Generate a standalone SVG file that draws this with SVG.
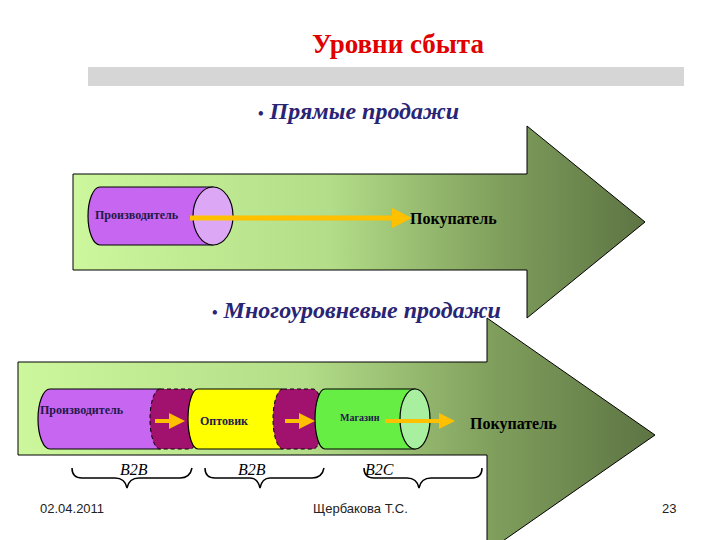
<svg xmlns="http://www.w3.org/2000/svg" width="720" height="540" viewBox="0 0 720 540">
<defs>
<linearGradient id="g" x1="0" x2="1" y1="0" y2="0"><stop offset="0" stop-color="#ccf79c"/><stop offset="0.45" stop-color="#b3dd88"/><stop offset="0.75" stop-color="#7f9e5c"/><stop offset="1" stop-color="#5d7443"/></linearGradient>
<marker id="ah" markerWidth="4" markerHeight="4" refX="2" refY="2" orient="auto" markerUnits="strokeWidth"><path d="M0,0 L4,2 L0,4 z" fill="#ffc000"/></marker>
<style>
.t{font-family:"Liberation Serif",serif;font-weight:bold;fill:#1f1a4a}
.k{font-family:"Liberation Serif",serif;font-weight:bold;fill:#000}
.b{font-family:"Liberation Serif",serif;font-style:italic;font-weight:bold;fill:#2a2475}
.cyl{stroke:#000;stroke-width:1.2}
.arr{stroke:#ffc000;fill:none;marker-end:url(#ah)}
.br{fill:none;stroke:#000;stroke-width:1.5}
.f{font-family:"Liberation Sans",sans-serif;font-size:13px;fill:#222}
</style>
</defs>
<rect width="720" height="540" fill="#fff"/>
<text x="398" y="53" text-anchor="middle" font-family="Liberation Serif,serif" font-size="27" font-weight="bold" fill="#e00000">Уровни сбыта</text>
<rect x="88" y="67" width="596" height="19" fill="#d6d6d6"/>
<text x="258" y="119" class="b" font-size="24"><tspan font-style="normal" font-size="16">•</tspan>  Прямые продажи</text>
<g id="arrow1"><path d="M73,174 H527 V126 L645,222 L527,318 V270 H73 Z" fill="url(#g)" stroke="#000"/></g>
<g id="arrow2"><path d="M18,362 H487 V318 L655,435 L487,552 V455 H18 Z" fill="url(#g)" stroke="#000"/></g>
<text x="212" y="318" class="b" font-size="24"><tspan font-style="normal" font-size="16">•</tspan>  Многоуровневые продажи</text>
<g id="p1"><path d="M100,187 H213 V245 H100 A12,29 0 0 1 100,187 Z" fill="#c766f0" class="cyl"/><ellipse cx="213" cy="216" rx="20" ry="29" fill="#dca8f5" class="cyl"/><text x="95" y="219" class="t" font-size="12">Производитель</text></g>
<g id="buyer1"><text x="410" y="224" class="k" font-size="16">Покупатель</text></g>
<g id="p2"><path d="M50,389 H160 V449 H50 A12,30 0 0 1 50,389 Z" fill="#c766f0" class="cyl"/><text x="40" y="414" class="t" font-size="12">Производитель</text></g>
<g id="m1"><path d="M160,389 H190 A10,30 0 0 1 190,449 H160 A10,30 0 0 1 160,389 Z" fill="#a0126e" stroke="#000" stroke-dasharray="4,3"/></g>
<g id="w"><path d="M198,389 H282 V449 H198 A10,30 0 0 1 198,389 Z" fill="#ffff00" class="cyl"/><text x="200" y="425" class="t" font-size="12">Оптовик</text></g>
<g id="m2"><path d="M283,389 H313 A10,30 0 0 1 313,449 H283 A10,30 0 0 1 283,389 Z" fill="#a0126e" stroke="#000" stroke-dasharray="4,3"/></g>
<g id="s"><path d="M325,389 H415 V449 H325 A10,30 0 0 1 325,389 Z" fill="#66ee44" class="cyl"/><ellipse cx="415" cy="419" rx="15" ry="30" fill="#a8f0a0" class="cyl"/><text x="340" y="421" class="t" font-size="10">Магазин</text></g>
<g id="buyer2"><text x="470" y="429" class="k" font-size="16">Покупатель</text></g>
<g id="connectors">
<line x1="190" y1="218" x2="402" y2="218" class="arr" stroke-width="5"/>
<line x1="155" y1="421" x2="177" y2="421" class="arr" stroke-width="4"/>
<line x1="285" y1="421" x2="307" y2="421" class="arr" stroke-width="4"/>
<line x1="385" y1="421" x2="447" y2="421" class="arr" stroke-width="4"/>
</g>
<path class="br" d="M72,468 Q72,478 82,478 H115 Q125,478 127,488 Q129,478 139,478 H180 Q190,478 192,468"/>
<path class="br" d="M205,468 Q205,478 215,478 H250 Q258,478 260,488 Q262,478 270,478 H312 Q322,478 324,468"/>
<path class="br" d="M364,468 Q364,478 374,478 H407 Q417,478 419,488 Q421,478 431,478 H472 Q482,478 482,468"/>
<text x="120" y="475" class="b" font-size="16" style="fill:#000;font-weight:normal">B2B</text>
<text x="238" y="475" class="b" font-size="16" style="fill:#000;font-weight:normal">B2B</text>
<text x="365" y="475" class="b" font-size="16" style="fill:#000;font-weight:normal">B2C</text>
<text x="40" y="513" class="f">02.04.2011</text>
<text x="313" y="513" class="f">Щербакова Т.С.</text>
<text x="662" y="513" class="f">23</text>
</svg>
